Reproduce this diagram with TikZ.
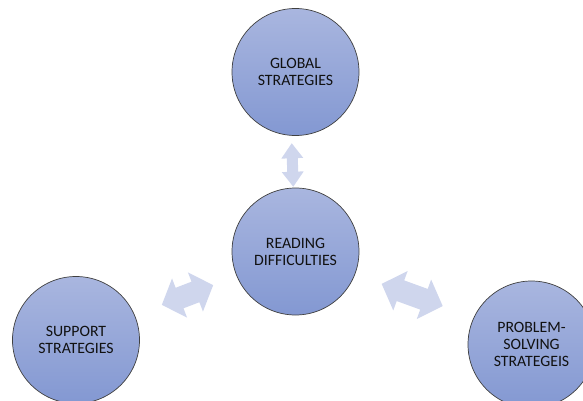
\documentclass[tikz,border=0pt]{standalone}
\usepackage{fontspec}
\setmainfont{Carlito}
\begin{document}
\definecolor{ctop}{HTML}{A9B6DF}
\definecolor{cbot}{HTML}{8398D2}
\definecolor{cline}{HTML}{404040}
\definecolor{arrfill}{HTML}{CFD6ED}
\definecolor{txt}{HTML}{111111}
\newcommand\MyDblArrow[4]{% L, head length, head width, shaft width
  \pgfmathsetmacro\aL{#1/2}\pgfmathsetmacro\aH{#1/2-#2}%
  \pgfmathsetmacro\aW{#3/2}\pgfmathsetmacro\aw{#4/2}%
  \fill[arrfill] (-\aL,0) -- (-\aH,\aW) -- (-\aH,\aw) -- (\aH,\aw) -- (\aH,\aW) -- (\aL,0)
    -- (\aH,-\aW) -- (\aH,-\aw) -- (-\aH,-\aw) -- (-\aH,-\aW) -- cycle;}
\begin{tikzpicture}[x=1pt,y=-1pt,
  bubble/.style={circle, draw=cline, line width=0.7pt, minimum size=127pt, inner sep=0pt,
    top color=ctop, bottom color=cbot, text=txt, align=center,
    font=\fontsize{15.8pt}{17pt}\selectfont}]
\useasboundingbox (0,0) rectangle (583,401);
\node[bubble] (g) at (295.5,72) {GLOBAL\\STRATEGIES};
\node[bubble] (r) at (295.5,251.5) {READING\\DIFFICULTIES};
\node[bubble] (s) at (76,340) {SUPPORT\\STRATEGIES};
\node[bubble] (p) at (531.5,344.5) {PROBLEM-\\SOLVING\\STRATEGEIS};
\coordinate (agr) at (292.5,165);
\coordinate (ars) at (187.5,295);
\coordinate (arp) at (412.2,295);
\begin{scope}[shift={(agr)}, rotate=92]\MyDblArrow{43.5}{15}{22}{11}\end{scope}
\begin{scope}[shift={(ars)}, rotate=21]\MyDblArrow{55}{19}{42}{22}\end{scope}
\begin{scope}[shift={(arp)}, rotate=-20]\MyDblArrow{65}{20}{42}{22}\end{scope}
\end{tikzpicture}
\end{document}
